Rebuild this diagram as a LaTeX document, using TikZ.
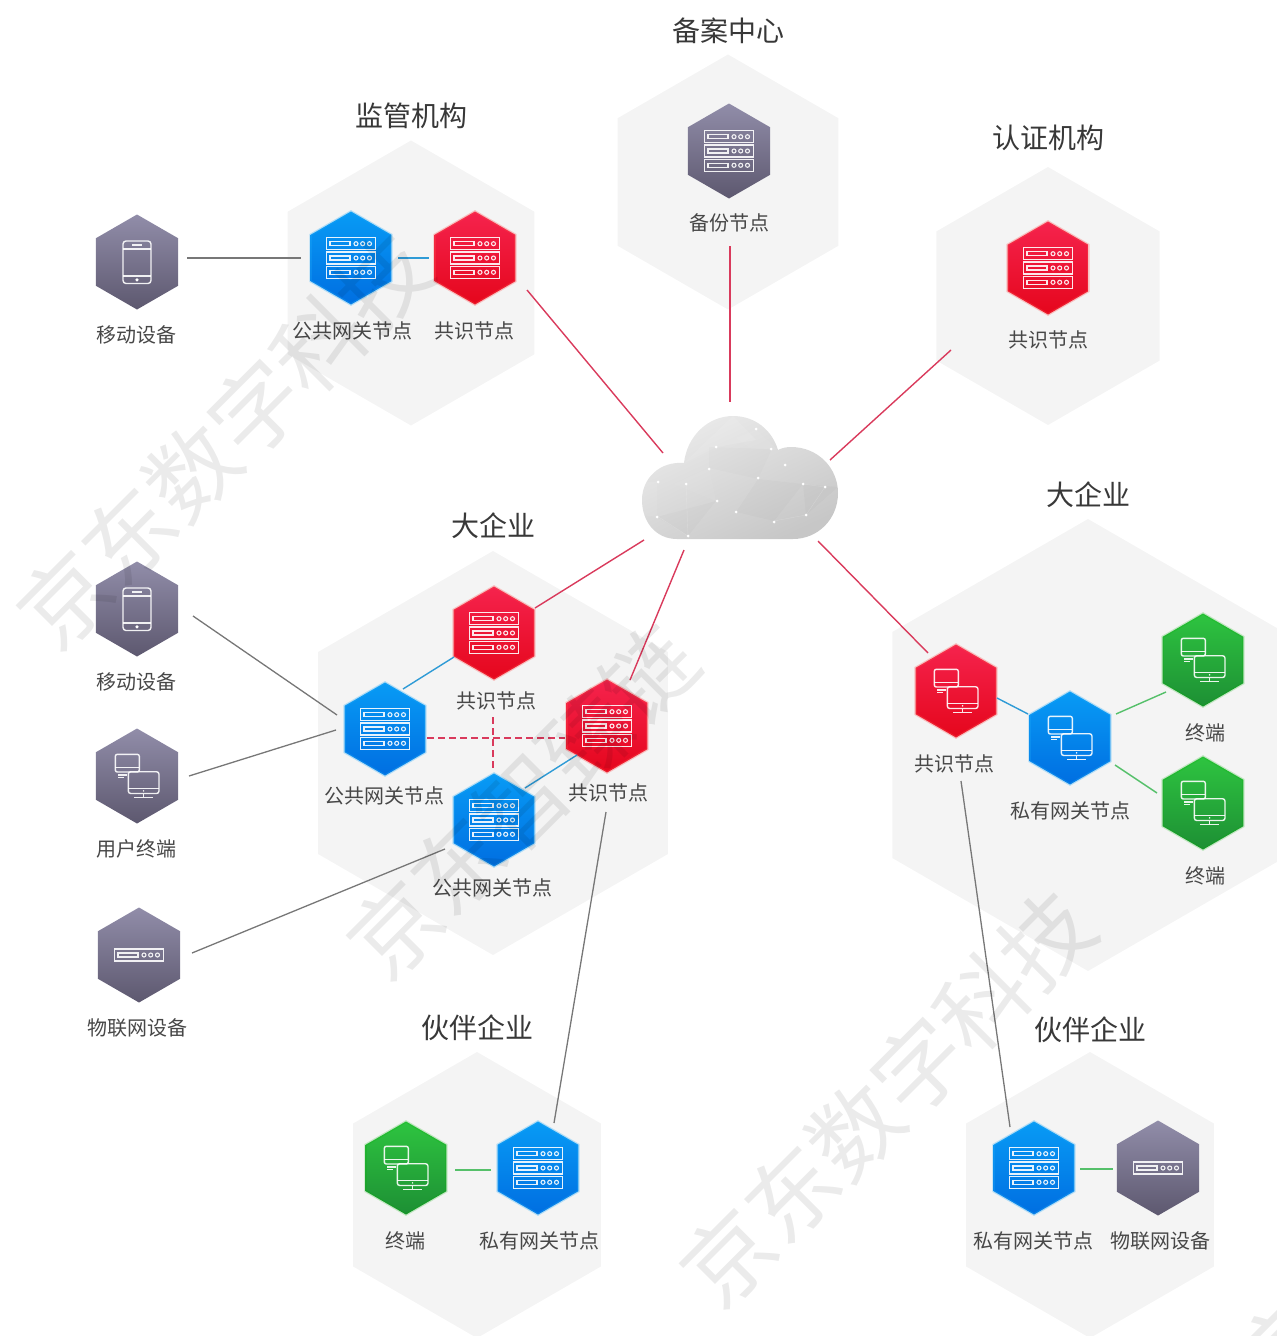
\documentclass[tikz,border=0pt]{standalone}
\usepackage{xcolor}
\usepackage{fontspec}
\setmainfont{Noto Sans CJK SC}
\usetikzlibrary{shapes.geometric}
\definecolor{platecol}{HTML}{F4F4F4}
\definecolor{redlinecol}{HTML}{D93A5C}
\definecolor{bluelinecol}{HTML}{2F9BD6}
\definecolor{greenlinecol}{HTML}{55C06A}
\definecolor{greylinecol}{HTML}{777777}
\def\cloudoutline{(677,539) .. controls (656,539) and (642,522) .. (642,500)
    .. controls (642,478) and (660,461) .. (684,463)
    .. controls (687,436) and (708,416) .. (733,416)
    .. controls (755,416) and (772,430) .. (778,450)
    .. controls (782,448) and (786,447) .. (791,447)
    .. controls (818,447) and (838,468) .. (838,493)
    .. controls (838,519) and (818,539) .. (793,539) -- cycle}
\begin{document}
\begin{tikzpicture}[x=1pt,y=-1pt]
    \tikzset{hexshape/.style={shape=regular polygon,regular polygon sides=6,shape border rotate=30,inner sep=0pt,outer sep=0pt},
        plate/.style={hexshape,fill=platecol},
        hexnode/.style={hexshape,minimum size=93pt,line width=2.5pt,draw opacity=.3},
        hexblue/.style={hexnode,draw={rgb,255:red,30;green,170;blue,250},top color={rgb,255:red,8;green,155;blue,245},bottom color={rgb,255:red,0;green,110;blue,225}},
        hexred/.style={hexnode,draw=red!70,top color={rgb,255:red,245;green,35;blue,77},bottom color={rgb,255:red,229;green,6;blue,28}},
        hexgreen/.style={hexnode,draw=green!70!black,draw opacity=.2,top color={rgb,255:red,46;green,196;blue,64},bottom color={rgb,255:red,29;green,143;blue,52}},
        hexgrey/.style={hexnode,minimum size=95pt,draw=none,top color={rgb,255:red,145;green,141;blue,169},bottom color={rgb,255:red,93;green,88;blue,111}},
        capt/.style={text=black!72,font=\fontsize{20}{24}\selectfont,inner sep=0pt},
        headline/.style={text=black!78,font=\fontsize{28}{32}\selectfont,inner sep=0pt},
        mark text/.style={text=black,text opacity=.08,rotate=45,font=\fontsize{90}{90}\selectfont,inner sep=0pt},
        redlink/.style={draw=redlinecol,line width=1.4pt},
        bluelink/.style={draw=bluelinecol,line width=1.4pt},
        greenlink/.style={draw=greenlinecol,line width=1.4pt},
        greylink/.style={draw=greylinecol,line width=1.3pt},
        dashlink/.style={draw=redlinecol,line width=1.3pt,dash pattern=on 6.5pt off 4.5pt},
        iconline/.style={draw=white,line width=1.4pt,draw opacity=.9},
        pics/devrow/.style={code={
            \draw[iconline] (-24.3,-6) rectangle (24.3,6);
            \draw[iconline,line width=1.1pt] (-21,-2) rectangle (-1,2);
            \draw[iconline,line width=1.1pt] (5,0) circle (2) (11.7,0) circle (2) (18.5,0) circle (2);}},
        pics/rackicon/.style={code={
            \pic at (0,-14.3) {devrow};
            \pic at (0,0) {devrow};
            \pic at (0,14.3) {devrow};}},
        pics/phoneicon/.style={code={
            \draw[iconline,rounded corners=3pt] (-14,-21) rectangle (14,21.5);
            \draw[iconline] (-14,-13) -- (14,-13) (-14,14) -- (14,14);
            \draw[iconline] (-5,-17) -- (5,-17);
            \fill[white] (0,17.8) circle (1.8);}},
        pics/pcicon/.style={code={
            \draw[iconline,rounded corners=2pt] (-21.7,-21.7) rectangle (2.3,-4);
            \draw[iconline] (-21.7,-8.7) -- (2.3,-8.7);
            \draw[iconline] (-18.7,-1) -- (-10.3,-1) (-18.7,1.5) -- (-13,1.5);
            \draw[iconline,rounded corners=2.5pt] (-8.7,-4.3) rectangle (22,17.5);
            \draw[iconline] (-8.7,12.3) -- (22,12.3);
            \draw[iconline] (6.6,17.5) -- (6.6,21) (-3,21.3) -- (16.3,21.3);
            \fill[white] (6.6,14.9) circle (.8);}}}
    \useasboundingbox (0,0) rectangle (1277,1336);
    % grey plates
    \node[plate,minimum size=285pt] (plateA) at (411,283) {};
    \node[plate,minimum size=255pt] (plateB) at (728,182) {};
    \node[plate,minimum size=258pt] (plateC) at (1048,296) {};
    \node[plate,minimum size=404pt] (plateD) at (493,753) {};
    \node[plate,minimum size=452pt] (plateE) at (1088,745) {};
    \node[plate,minimum size=286pt] (plateF) at (477,1195) {};
    \node[plate,minimum size=286pt] (plateG) at (1090,1195) {};
    % headings
    \node[headline] (headB) at (728,31) {备案中心};
    \node[headline] (headA) at (411,116) {监管机构};
    \node[headline] (headC) at (1048,138) {认证机构};
    \node[headline] (headD) at (493,526) {大企业};
    \node[headline] (headE) at (1088,495) {大企业};
    \node[headline] (headF) at (477,1028) {伙伴企业};
    \node[headline] (headG) at (1090,1030) {伙伴企业};
    % cloud
    \path[top color=black!8,bottom color=black!22,shading angle=25] \cloudoutline;
    \begin{scope}
        \clip \cloudoutline;
        \fill[white,opacity=.1] (684,463) -- (733,416) -- (756,440) -- (716,447) -- cycle;
        \fill[white,opacity=.06] (756,430) -- (778,450) -- (752,449) -- (736,438) -- cycle;
        \fill[black,opacity=.012] (709,447) -- (772,449) -- (758,479) -- (709,468) -- cycle;
        \fill[white,opacity=.08] (642,482) -- (657,482) -- (657,517) -- (642,515) -- cycle;
        \fill[black,opacity=.015] (657,517) -- (716,501) -- (688,536) -- cycle;
        \fill[black,opacity=.015] (758,479) -- (803,484) -- (774,521) -- (736,512) -- cycle;
        \fill[white,opacity=.05] (674,484) -- (709,468) -- (716,501) -- cycle;
        \fill[black,opacity=.02] (803,484) -- (838,487) -- (806,515) -- cycle;
        \draw[white,opacity=.2,line width=.4pt] (657,482) -- (657,516) -- (688,536) -- (686,484) (806,515) -- (825,487) -- (803,484) (774,521) -- (806,515);
    \end{scope}
    \foreach \dotx/\doty in {756/429,716/447,771/449,709/469,785/465,758/478,658/482,686/484,803/484,825/487,717/501,736/512,657/517,774/522,806/515,688/536}
        \fill[white] (\dotx,\doty) circle (1.5);
    \coordinate (cloud) at (740,478);
    % device hexagons
    \node[hexgrey] (mobA) at (137,262) {};
    \node[hexblue] (gwA) at (351,258) {};
    \node[hexred] (consA) at (475,258) {};
    \node[hexgrey] (backup) at (729,151) {};
    \node[hexred] (consB) at (1048,268) {};
    \node[hexred] (consC) at (494,633) {};
    \node[hexblue] (gwB) at (385,729) {};
    \node[hexred] (consD) at (607,726) {};
    \node[hexblue] (gwC) at (494,820) {};
    \node[hexgrey] (mobB) at (137,609) {};
    \node[hexgrey] (userT) at (137,776) {};
    \node[hexgrey] (iotA) at (139,955) {};
    \node[hexred] (consE) at (956,691) {};
    \node[hexblue] (prvA) at (1070,738) {};
    \node[hexgreen] (termA) at (1203,660) {};
    \node[hexgreen] (termB) at (1203,803) {};
    \node[hexgreen] (termC) at (406,1168) {};
    \node[hexblue] (prvB) at (538,1168) {};
    \node[hexblue] (prvC) at (1034,1168) {};
    \node[hexgrey] (iotB) at (1158,1168) {};
    % icons
    \pic at (mobA) {phoneicon};
    \pic at (mobB) {phoneicon};
    \pic at (gwA) {rackicon};
    \pic at (consA) {rackicon};
    \pic at (backup) {rackicon};
    \pic at (consB) {rackicon};
    \pic at (consC) {rackicon};
    \pic at (gwB) {rackicon};
    \pic at (consD) {rackicon};
    \pic at (gwC) {rackicon};
    \pic at (prvB) {rackicon};
    \pic at (prvC) {rackicon};
    \pic at (userT) {pcicon};
    \pic at (consE) {pcicon};
    \pic at (prvA) {pcicon};
    \pic at (termA) {pcicon};
    \pic at (termB) {pcicon};
    \pic at (termC) {pcicon};
    \pic at (iotA) {devrow};
    \pic at (iotB) {devrow};
    % captions
    \node[capt] (mobAtxt) at (136,335) {移动设备};
    \node[capt] (gwAtxt) at (352,331) {公共网关节点};
    \node[capt] (consAtxt) at (474,331) {共识节点};
    \node[capt] (backuptxt) at (729,223) {备份节点};
    \node[capt] (consBtxt) at (1048,340) {共识节点};
    \node[capt] (consCtxt) at (496,701) {共识节点};
    \node[capt] (gwBtxt) at (384,796) {公共网关节点};
    \node[capt] (consDtxt) at (608,793) {共识节点};
    \node[capt] (gwCtxt) at (492,888) {公共网关节点};
    \node[capt] (mobBtxt) at (136,682) {移动设备};
    \node[capt] (userTtxt) at (136,849) {用户终端};
    \node[capt] (iotAtxt) at (137,1028) {物联网设备};
    \node[capt] (consEtxt) at (954,764) {共识节点};
    \node[capt] (prvAtxt) at (1070,811) {私有网关节点};
    \node[capt] (termAtxt) at (1205,733) {终端};
    \node[capt] (termBtxt) at (1205,876) {终端};
    \node[capt] (termCtxt) at (405,1241) {终端};
    \node[capt] (prvBtxt) at (539,1241) {私有网关节点};
    \node[capt] (prvCtxt) at (1033,1241) {私有网关节点};
    \node[capt] (iotBtxt) at (1160,1241) {物联网设备};
    % connectors
    \draw[greylink] ([shift={(50,-4)}]mobA.center) -- ([shift={(-50,0)}]gwA.center);
    \draw[bluelink] ([shift={(47,0)}]gwA.center) -- ([shift={(-46,0)}]consA.center);
    \draw[redlink] ([shift={(52,32)}]consA.center) -- ([shift={(-77,-25)}]cloud);
    \draw[redlink] ([shift={(1,95)}]backup.center) -- ([shift={(-10,-76)}]cloud);
    \draw[redlink] ([shift={(-97,82)}]consB.center) -- ([shift={(90,-18)}]cloud);
    \draw[redlink] ([shift={(41,-25)}]consC.center) -- ([shift={(-96,62)}]cloud);
    \draw[redlink] ([shift={(23,-46)}]consD.center) -- ([shift={(-56,72)}]cloud);
    \draw[redlink] ([shift={(-28,-38)}]consE.center) -- ([shift={(78,63)}]cloud);
    \draw[bluelink] ([shift={(41,7)}]consE.center) -- ([shift={(-42,-24)}]prvA.center);
    \draw[greenlink] ([shift={(46,-24)}]prvA.center) -- ([shift={(-37,32)}]termA.center);
    \draw[greenlink] ([shift={(45,27)}]prvA.center) -- ([shift={(-46,-10)}]termB.center);
    \draw[greylink] ([shift={(5,90)}]consE.center) -- ([shift={(-24,-41)}]prvC.center);
    \draw[greylink] ([shift={(-1,86)}]consD.center) -- ([shift={(16,-45)}]prvB.center);
    \draw[bluelink] ([shift={(18,-40)}]gwB.center) -- ([shift={(-40,24)}]consC.center);
    \draw[bluelink] ([shift={(31,-32)}]gwC.center) -- ([shift={(-30,29)}]consD.center);
    \draw[dashlink] ([shift={(42,9)}]gwB.center) -- ([shift={(-42,12)}]consD.center);
    \draw[dashlink] ([shift={(-1,84)}]consC.center) -- ([shift={(-1,-50)}]gwC.center);
    \draw[greylink] ([shift={(56,7)}]mobB.center) -- ([shift={(-48,-14)}]gwB.center);
    \draw[greylink] ([shift={(52,0)}]userT.center) -- ([shift={(-49,1)}]gwB.center);
    \draw[greylink] ([shift={(53,-2)}]iotA.center) -- ([shift={(-49,29)}]gwC.center);
    \draw[greenlink] ([shift={(49,2)}]termC.center) -- ([shift={(-47,2)}]prvB.center);
    \draw[greenlink] ([shift={(46,1)}]prvC.center) -- ([shift={(-45,1)}]iotB.center);
    % watermarks
    \node[mark text] (markA) at (224,440) {京东数字科技};
    \node[mark text] (markB) at (522,802) {京东智臻链};
    \node[mark text] (markC) at (887,1098) {京东数字科技};
    \begin{scope}
        \clip (0,0) rectangle (1277,1336);
        \node[mark text] (markD) at (1285,1345) {京};
    \end{scope}
\end{tikzpicture}
\end{document}
